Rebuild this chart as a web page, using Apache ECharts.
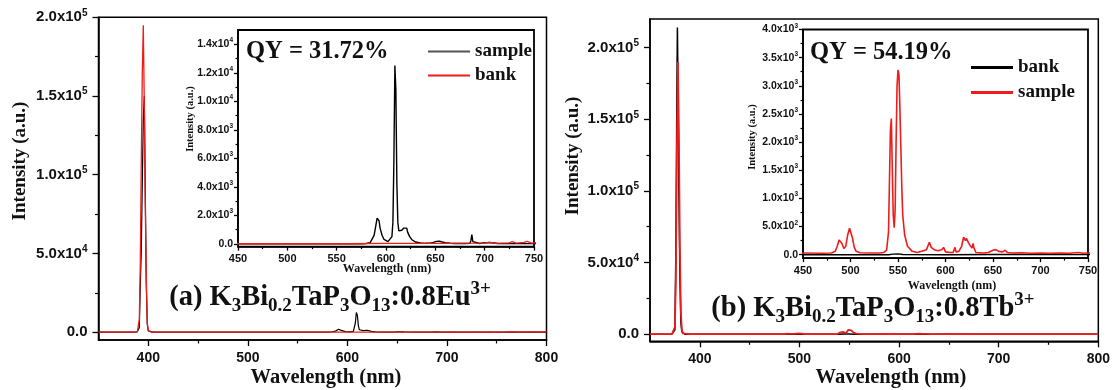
<!DOCTYPE html>
<html><head><meta charset="utf-8">
<script src="https://cdn.jsdelivr.net/npm/echarts@6/dist/echarts.min.js"></script>
<style>html,body{margin:0;padding:0;background:#fff}#c{width:1113px;height:390px}</style>
</head><body><div id="c"></div>
<script>
// ---------- data (wavelength nm, intensity a.u.) ----------
const aSample = [[350,0],[385,0],[389,200],[391,3000],[392,30000],[393,52000],[394,95000],[395,135000],[396,150000],[397,90000],[398,30000],[399,5000],[400,800],[402,100],[405,0],[500,0],[575,0],[580,20],[584,80],[586,200],[588,600],[590,1400],[591,1800],[592,1880],[593,1600],[594,1100],[596,600],[598,300],[600,180],[602,150],[604,200],[606,500],[607,1500],[608,5800],[609,12500],[610,10800],[611,4300],[612,1500],[613,900],[614,800],[616,950],[618,1100],[620,1200],[621,1100],[622,800],[624,500],[626,300],[628,200],[630,120],[635,60],[640,30],[645,40],[648,100],[651,170],[654,180],[657,120],[660,80],[665,40],[670,20],[680,15],[685,30],[686,200],[687,650],[688,150],[689,30],[695,20],[698,60],[702,70],[706,60],[710,50],[713,20],[720,10],[750,10],[800,0]];
const aBank = [[350,0],[385,0],[389,300],[390,1500],[391,8000],[392,45000],[393,110000],[394,165000],[395,195000],[396,145000],[397,80000],[398,35000],[399,6000],[400,1000],[401,200],[403,0],[560,0],[600,20],[650,30],[700,40],[705,120],[710,30],[725,60],[728,150],[732,40],[740,90],[743,160],[747,50],[760,100],[765,300],[770,80],[780,180],[785,350],[790,100],[800,150]];
const bBank = [[350,0],[372,0],[374,200],[375,3000],[376,60000],[377,170000],[377.5,214000],[378,180000],[379,100000],[380,40000],[381,8000],[382,1500],[383,200],[385,0],[540,0],[545,10],[550,15],[555,5],[600,0],[650,5],[800,0]];
const bSample = [[350,30],[372,30],[374,500],[375,5000],[376,40000],[377,130000],[378,190000],[379,140000],[380,60000],[381,15000],[382,3000],[383,500],[385,50],[390,30],[450,30],[470,25],[480,30],[484,60],[486,150],[488,260],[489,285],[491,200],[493,110],[495,150],[497,350],[499,470],[500,460],[502,300],[504,130],[506,60],[510,35],[520,30],[530,30],[535,40],[538,80],[540,400],[541,1300],[542,2200],[543,2420],[544,1500],[545,700],[546,480],[547,800],[548,2000],[549,3000],[550,3280],[551,3200],[552,2600],[553,1900],[554,1200],[555,700],[557,350],[560,150],[565,60],[570,40],[575,60],[580,90],[583,220],[585,130],[588,90],[592,70],[596,90],[598,130],[600,50],[605,40],[608,40],[610,130],[611,50],[614,60],[617,150],[619,310],[620,290],[621,250],[622,290],[624,220],[626,160],[628,120],[629,200],[630,120],[632,40],[640,30],[645,40],[650,80],[653,90],[656,60],[660,50],[663,80],[665,40],[670,30],[680,35],[690,25],[700,30],[710,25],[720,30],[730,25],[740,40],[745,25],[750,30],[800,30]];

// ---------- ticks ----------
const mainXMajor = [400,500,600,700,800];
const mainXMinor = [450,550,650,750];
const insetXMajor = [450,500,550,600,650,700,750];
const insetXMinor = [475,525,575,625,675,725];
const mainYMajor = [0,50000,100000,150000,200000];
const mainYMinor = [25000,75000,125000,175000];
const aInsetYMajor = [0,2000,4000,6000,8000,10000,12000,14000];
const aInsetYMinor = [1000,3000,5000,7000,9000,11000,13000];
const bInsetYMajor = [0,500,1000,1500,2000,2500,3000,3500,4000];
const bInsetYMinor = [250,750,1250,1750,2250,2750,3250,3750];

const SERIF = 'Liberation Serif', SANS = 'Liberation Sans';
const RED = '#ee1c1c', BLK = '#000';

function sci(v){
  if (v === 0) return '{m|0.0}';
  const e = Math.floor(Math.log10(v) + 1e-9);
  const m = (v / Math.pow(10, e)).toFixed(1);
  return '{m|' + m + 'x10}{s|' + e + '}';
}

const grids = [
  {left:98.5, top:17.3, width:448, height:322.7, show:true, borderColor:'#000', borderWidth:1.5},
  {left:650, top:19, width:449, height:322.3, show:true, borderColor:'#000', borderWidth:1.5},
  {left:238, top:30, width:296, height:216.6, show:true, borderColor:'#000', borderWidth:1.8, backgroundColor:'#fff', z:5},
  {left:803, top:29.5, width:285, height:228.6, show:true, borderColor:'#000', borderWidth:1.8, backgroundColor:'#fff', z:5}
];

function xAxes(g, min, max, major, minor, big){
  const fs = big ? 14 : 11;
  return [
    {type:'value', gridIndex:g, min, max, position:'bottom',
     axisLine:{show:true, onZero:false, lineStyle:{color:'#000', width:1.5}},
     axisTick:{show:true, customValues:major, length: big?6:4, lineStyle:{color:'#000', width:1.3}},
     axisLabel:{show:true, customValues:major, margin: big?11:7, fontFamily:SANS, fontWeight:'bold', fontSize:fs, color:'#111'},
     splitLine:{show:false}, z: big?3:8},
    {type:'value', gridIndex:g, min, max, position:'bottom',
     axisLine:{show:false, onZero:false},
     axisTick:{show:true, customValues:minor, length: big?3.5:2.5, lineStyle:{color:'#000', width:1.2}},
     axisLabel:{show:false}, splitLine:{show:false}, z: big?3:8}
  ];
}
function yAxes(g, min, max, major, minor, big){
  const fs = big ? 15 : 10.5, ss = big ? 10 : 6.5;
  return [
    {type:'value', gridIndex:g, min, max, position:'left',
     axisLine:{show:true, onZero:false, lineStyle:{color:'#000', width:1.5}},
     axisTick:{show:true, customValues:major, length: big?6:4, lineStyle:{color:'#000', width:1.3}},
     axisLabel:{show:true, customValues:major, margin: big?11:5, formatter:sci,
       rich:{m:{fontFamily:SANS, fontWeight:'bold', fontSize:fs, lineHeight:fs+4, color:'#111'},
             s:{fontFamily:SANS, fontWeight:'bold', fontSize:ss, lineHeight:ss+2, verticalAlign:'top', color:'#111'}}},
     splitLine:{show:false}, z: big?3:8},
    {type:'value', gridIndex:g, min, max, position:'left',
     axisLine:{show:false, onZero:false},
     axisTick:{show:true, customValues:minor, length: big?3.5:2.5, lineStyle:{color:'#000', width:1.2}},
     axisLabel:{show:false}, splitLine:{show:false}, z: big?3:8}
  ];
}

const xAxis = [].concat(
  xAxes(0, 350, 800, mainXMajor, mainXMinor, true),
  xAxes(1, 350, 800, mainXMajor, mainXMinor, true),
  xAxes(2, 450, 750, insetXMajor, insetXMinor, false),
  xAxes(3, 450, 750, insetXMajor, insetXMinor, false)
);
const yAxis = [].concat(
  yAxes(0, -5000, 200000, mainYMajor, mainYMinor, true),
  yAxes(1, -5000, 220000, mainYMajor, mainYMinor, true),
  yAxes(2, -200, 15000, aInsetYMajor, aInsetYMinor, false),
  yAxes(3, -60, 4000, bInsetYMajor, bInsetYMinor, false)
);

function line(name, data, g, color, width, z){
  return {type:'line', name, data, xAxisIndex:2*g, yAxisIndex:2*g, symbol:'none', showSymbol:false,
          color, lineStyle:{color, width}, itemStyle:{color}, z, animation:false, clip:true};
}
const series = [
  line('a-sample', aSample, 0, BLK, 1.2, 2),
  line('a-bank', aBank, 0, RED, 1.3, 3),
  line('b-bank', bBank, 1, BLK, 1.5, 2),
  line('b-sample', bSample, 1, RED, 1.8, 3),
  line('a-sample', aSample, 2, BLK, 1.4, 10),
  line('a-bank', aBank, 2, RED, 1.3, 11),
  line('b-bank', bBank, 3, BLK, 1.4, 10),
  line('b-sample', bSample, 3, RED, 1.6, 11)
];

function txt(x, y, text, size, rot, align, rich){
  const st = {text, x:0, y:0, fontFamily:SERIF, fontWeight:'bold', fontSize:size, fill:'#111',
    align: align||'center', textAlign: align||'center', verticalAlign:'middle', textVerticalAlign:'middle'};
  if (rich) st.rich = rich;
  return {type:'text', x, y, rotation: rot||0, style:st, z:100};
}
function formulaRich(){
  return {
    m:{fontFamily:SERIF, fontWeight:'bold', fontSize:28.5, lineHeight:36, fill:'#111'},
    b:{fontFamily:SERIF, fontWeight:'bold', fontSize:19, lineHeight:19, verticalAlign:'bottom', fill:'#111'},
    t:{fontFamily:SERIF, fontWeight:'bold', fontSize:19, lineHeight:24, verticalAlign:'top', fill:'#111'}
  };
}
const graphic = [
  txt(20, 161, 'Intensity (a.u.)', 19, Math.PI/2),
  txt(573, 156, 'Intensity (a.u.)', 19, Math.PI/2),
  txt(326, 378, 'Wavelength (nm)', 20.5),
  txt(891, 378, 'Wavelength (nm)', 20.5),
  txt(190, 119, 'Intensity (a.u.)', 10.5, Math.PI/2),
  txt(752, 137, 'Intensity (a.u.)', 10.5, Math.PI/2),
  txt(387, 269, 'Wavelength (nm)', 12),
  txt(952, 286, 'Wavelength (nm)', 12),
  txt(246, 52, 'QY = 31.72%', 24.5, 0, 'left'),
  txt(810, 53, 'QY = 54.19%', 24.5, 0, 'left'),
  txt(330, 298, '{m|(a) K}{b|3}{m|Bi}{b|0.2}{m|TaP}{b|3}{m|O}{b|13}{m|:0.8Eu}{t|3+}', 28.5, 0, 'center', formulaRich()),
  txt(873, 309, '{m|(b) K}{b|3}{m|Bi}{b|0.2}{m|TaP}{b|3}{m|O}{b|13}{m|:0.8Tb}{t|3+}', 28.5, 0, 'center', formulaRich())
];

const legendText = {fontFamily:SERIF, fontWeight:'bold', fontSize:19, color:'#111'};
const legend = [
  {data:[{name:'a-sample', itemStyle:{color:'#555'}}, 'a-bank'], orient:'vertical', left:423, top:37,
   icon:'rect', itemWidth:42, itemHeight:2, itemGap:5, formatter:n=>n.slice(2), textStyle:legendText, selectedMode:false, z:20},
  {data:['b-bank','b-sample'], orient:'vertical', left:966, top:53,
   icon:'rect', itemWidth:42, itemHeight:3, itemGap:6, formatter:n=>n.slice(2), textStyle:legendText, selectedMode:false, z:20}
];

const chart = echarts.init(document.getElementById('c'), null, {renderer:'canvas'});
chart.setOption({animation:false, backgroundColor:'#fff', grid:grids, xAxis, yAxis, series, legend, graphic});
</script></body></html>
